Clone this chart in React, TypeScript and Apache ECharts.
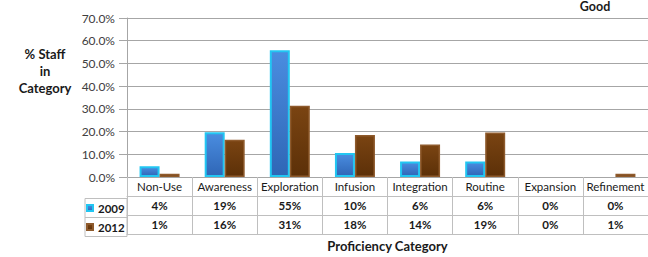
import React, { useEffect, useRef } from "react";
import * as echarts from "echarts";

const categories = ["Non-Use", "Awareness", "Exploration", "Infusion", "Integration", "Routine", "Expansion", "Refinement"];
const values2009 = [4.7, 19.7, 55.8, 10.6, 6.8, 6.8, 0, 0];
const values2012 = [1.4, 16.4, 31.4, 18.5, 14.3, 19.6, 0, 1.4];
const table2009 = ["4%", "19%", "55%", "10%", "6%", "6%", "0%", "0%"];
const table2012 = ["1%", "16%", "31%", "18%", "14%", "19%", "0%", "1%"];
const seriesNames = ["2009", "2012"];
const yTicks = { min: 0, max: 70, interval: 10 };

const FONT = "Lato, 'Open Sans', 'Liberation Sans', sans-serif";
const GRID_LINE = "#A6A6A6";
const TABLE_LINE = "#BFBFBF";

const hideZero = (vals: number[]) =>
  vals.map((v) => (v === 0 ? { value: v, itemStyle: { borderWidth: 0, opacity: 0 } } : v));

export default function App() {
  const ref = useRef<HTMLDivElement>(null);
  useEffect(() => {
    if (!ref.current) return;
    const chart = echarts.init(ref.current, null, { renderer: "svg" });
    const blue = new echarts.graphic.LinearGradient(0, 0, 0, 1, [
      { offset: 0, color: "#4A8DE0" },
      { offset: 1, color: "#2F66B6" },
    ]);
    const brown = new echarts.graphic.LinearGradient(0, 0, 0, 1, [
      { offset: 0, color: "#7A4412" },
      { offset: 1, color: "#5C3008" },
    ]);
    const valueAxisCommon = (data: string[], offset: number) => ({
      type: "category" as const,
      data,
      position: "bottom" as const,
      offset,
      axisLine: { show: true, lineStyle: { color: TABLE_LINE, width: 1 } },
      axisTick: { show: false },
      axisLabel: {
        show: true,
        margin: 3,
        fontFamily: FONT,
        fontSize: 11.5,
        fontWeight: "bold" as const,
        color: "#1a1a1a",
        interval: 0,
      },
    });
    chart.setOption({
      animation: false,
      grid: { left: 127, right: -4, top: 18, bottom: 77.5, containLabel: false },
      legend: {
        data: seriesNames,
        orient: "vertical",
        left: 86,
        top: 201,
        padding: 0,
        itemWidth: 6,
        itemHeight: 6,
        itemGap: 5,
        icon: "rect",
        textStyle: { fontFamily: FONT, fontSize: 11.5, fontWeight: "bold", color: "#1a1a1a", lineHeight: 14 },
      },
      xAxis: [
        {
          type: "category",
          data: categories,
          position: "bottom",
          axisLine: { show: true, lineStyle: { color: GRID_LINE, width: 1 } },
          axisTick: { show: true, length: 57, alignWithLabel: false, lineStyle: { color: TABLE_LINE } },
          axisLabel: { margin: 3, interval: 0, fontFamily: FONT, fontSize: 11.5, color: "#1a1a1a" },
          name: "Proficiency Category",
          nameLocation: "middle",
          nameGap: 62,
          nameTextStyle: { fontFamily: FONT, fontSize: 13, fontWeight: "bold", color: "#1a1a1a" },
        },
        valueAxisCommon(table2009, 19),
        valueAxisCommon(table2012, 38),
        { ...valueAxisCommon(categories, 57), axisLabel: { show: false } },
      ],
      yAxis: {
        type: "value",
        min: yTicks.min,
        max: yTicks.max,
        interval: yTicks.interval,
        axisLine: { show: true, lineStyle: { color: GRID_LINE } },
        axisTick: { show: true, length: 8, lineStyle: { color: GRID_LINE } },
        splitLine: { show: true, lineStyle: { color: GRID_LINE, width: 1 } },
        axisLabel: {
          margin: 12,
          fontFamily: FONT,
          fontSize: 12,
          color: "#404040",
          formatter: (v: number) => v.toFixed(1) + "%",
        },
      },
      series: [
        {
          name: seriesNames[0],
          type: "bar",
          data: hideZero(values2009),
          barWidth: 20,
          barGap: "0%",
          itemStyle: { color: blue, borderColor: "#22C6F2", borderWidth: 2 },
        },
        {
          name: seriesNames[1],
          type: "bar",
          data: hideZero(values2012),
          barWidth: 20,
          barGap: "0%",
          itemStyle: { color: brown, borderColor: "#8E5A2C", borderWidth: 1.5 },
        },
      ],
      graphic: [
        {
          type: "text",
          x: 45,
          y: 45,
          style: {
            text: "% Staff\nin\nCategory",
            align: "center",
            verticalAlign: "top",
            lineHeight: 17,
            fontFamily: FONT,
            fontSize: 13,
            fontWeight: "bold",
            fill: "#1a1a1a",
          },
        },
        {
          type: "text",
          x: 595,
          y: 6,
          style: {
            text: "Good",
            align: "center",
            verticalAlign: "middle",
            fontFamily: FONT,
            fontSize: 12.5,
            fontWeight: "bold",
            fill: "#1a1a1a",
          },
        },
        {
          type: "rect",
          shape: { x: 85, y: 198.5, width: 42, height: 38 },
          style: { fill: "none", stroke: TABLE_LINE, lineWidth: 1 },
        },
        {
          type: "line",
          shape: { x1: 85, y1: 217.5, x2: 127, y2: 217.5 },
          style: { stroke: TABLE_LINE, lineWidth: 1 },
        },
      ],
    });
    return () => chart.dispose();
  }, []);
  return <div ref={ref} style={{ width: 648, height: 257, position: "absolute", left: 0, top: 0 }} />;
}
